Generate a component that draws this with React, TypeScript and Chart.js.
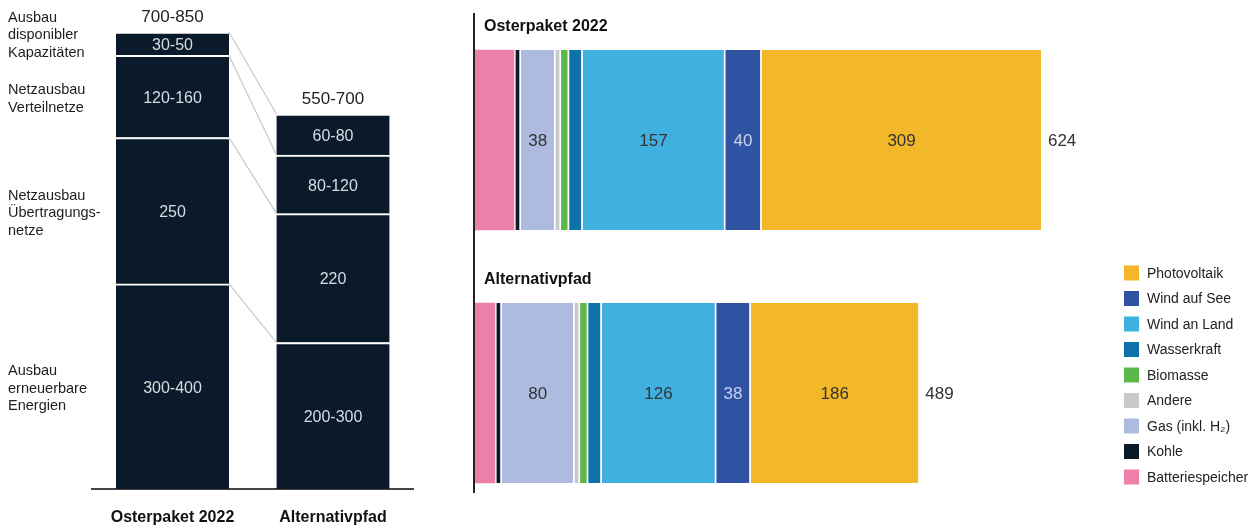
import React, { useEffect, useRef } from "react";
import { Chart, registerables } from "chart.js";

Chart.register(...registerables);

const FONT = '"Liberation Sans", Arial, Helvetica, sans-serif';

// ---------- Left chart: Kosten (Mrd. €) ----------
const costCategories = ["Osterpaket 2022", "Alternativpfad"];
const costComponents = [
  "Ausbau erneuerbare Energien",
  "Netzausbau Übertragungsnetze",
  "Netzausbau Verteilnetze",
  "Ausbau disponibler Kapazitäten",
];
const costComponentLines = [
  ["Ausbau", "erneuerbare", "Energien"],
  ["Netzausbau", "Übertragungs-", "netze"],
  ["Netzausbau", "Verteilnetze"],
  ["Ausbau", "disponibler", "Kapazitäten"],
];
const costOsterpaket = [350, 250, 140, 40];
const costAlternativ = [250, 220, 100, 70];
const costLabelsOsterpaket = ["300-400", "250", "120-160", "30-50"];
const costLabelsAlternativ = ["200-300", "220", "80-120", "60-80"];
const costTotalLabels = ["700-850", "550-700"];

// ---------- Right chart: installierte Leistung (GW) ----------
const capacityScenarios = ["Osterpaket 2022", "Alternativpfad"];
const technologies = [
  "Batteriespeicher",
  "Kohle",
  "Gas (inkl. H₂)",
  "Andere",
  "Biomasse",
  "Wasserkraft",
  "Wind an Land",
  "Wind auf See",
  "Photovoltaik",
];
const capacityOsterpaket = [44, 6, 38, 6, 9, 15, 157, 40, 309];
const capacityAlternativ = [23, 6, 80, 6, 9, 15, 126, 38, 186];
const capacityTotals = [624, 489];
const labeledTechnologies = ["Gas (inkl. H₂)", "Wind an Land", "Wind auf See", "Photovoltaik"];
const lightTextTechnologies = ["Wind auf See"];

const techColors = [
  "#ec80a9",
  "#0b1a2a",
  "#adbbe0",
  "#c9c9c9",
  "#5cb849",
  "#0e72a9",
  "#40b0e1",
  "#2f52a3",
  "#f3b829",
];
const costColor = "#0a1a2a";

const leftPlugin = {
  id: "leftDecor",
  afterDatasetsDraw(chart: any) {
    const ctx = chart.ctx as CanvasRenderingContext2D;
    ctx.save();
    const n = chart.data.datasets.length;
    // connector lines
    ctx.strokeStyle = "#c8c8c8";
    ctx.lineWidth = 1.2;
    for (let i = 0; i < n; i++) {
      const meta = chart.getDatasetMeta(i);
      const a = meta.data[0];
      const b = meta.data[1];
      ctx.beginPath();
      ctx.moveTo(a.x + a.width / 2, a.y);
      ctx.lineTo(b.x - b.width / 2, b.y);
      ctx.stroke();
    }
    // segment labels
    ctx.textAlign = "center";
    ctx.textBaseline = "middle";
    ctx.font = `16px ${FONT}`;
    ctx.fillStyle = "#d7dce2";
    for (let i = 0; i < n; i++) {
      const meta = chart.getDatasetMeta(i);
      meta.data.forEach((el: any, j: number) => {
        const lbl = j === 0 ? costLabelsOsterpaket[i] : costLabelsAlternativ[i];
        ctx.fillText(lbl, el.x, (el.y + el.base) / 2 + 2);
      });
    }
    // totals above bars
    const topMeta = chart.getDatasetMeta(n - 1);
    ctx.font = `17px ${FONT}`;
    ctx.fillStyle = "#222";
    topMeta.data.forEach((el: any, j: number) => {
      ctx.fillText(costTotalLabels[j], el.x, el.y - 15);
    });
    // category labels
    ctx.font = `bold 16px ${FONT}`;
    ctx.fillStyle = "#111";
    topMeta.data.forEach((el: any, j: number) => {
      ctx.fillText(costCategories[j], el.x, 518);
    });
    // side annotations
    ctx.textAlign = "left";
    ctx.font = `14.5px ${FONT}`;
    ctx.fillStyle = "#1e1e1e";
    const lh = 17.5;
    for (let i = 0; i < n; i++) {
      const el = chart.getDatasetMeta(i).data[0];
      const lines = costComponentLines[i];
      let center = (el.y + el.base) / 2 + 2.5;
      if (i === n - 1) center = el.y + 3;
      const start = center - ((lines.length - 1) * lh) / 2;
      lines.forEach((t, k) => ctx.fillText(t, 8, start + k * lh));
    }
    ctx.restore();
  },
};

const rightPlugin = {
  id: "rightDecor",
  afterDatasetsDraw(chart: any) {
    const ctx = chart.ctx as CanvasRenderingContext2D;
    const area = chart.chartArea;
    const n = chart.data.datasets.length;
    ctx.save();
    // value labels
    ctx.textAlign = "center";
    ctx.textBaseline = "middle";
    ctx.font = `17px ${FONT}`;
    chart.data.datasets.forEach((ds: any, i: number) => {
      if (!labeledTechnologies.includes(ds.label)) return;
      const meta = chart.getDatasetMeta(i);
      ctx.fillStyle = lightTextTechnologies.includes(ds.label) ? "#c8d2ef" : "#333";
      meta.data.forEach((el: any, j: number) => {
        ctx.fillText(String(ds.data[j]), (el.x + el.base) / 2 + 1, el.y + 1);
      });
    });
    // totals
    const last = chart.getDatasetMeta(n - 1);
    ctx.textAlign = "left";
    ctx.fillStyle = "#333";
    last.data.forEach((el: any, j: number) => {
      ctx.fillText(String(capacityTotals[j]), el.x + 7, el.y + 1);
    });
    // scenario titles
    const first = chart.getDatasetMeta(0);
    ctx.font = `bold 16px ${FONT}`;
    ctx.fillStyle = "#111";
    first.data.forEach((el: any, j: number) => {
      const top = el.y - el.height / 2;
      ctx.fillText(capacityScenarios[j], area.left + 10, top - 23);
    });
    // axis line
    const lastBar = first.data[first.data.length - 1];
    const bottom = lastBar.y + lastBar.height / 2;
    ctx.strokeStyle = "#222";
    ctx.lineWidth = 2;
    ctx.beginPath();
    ctx.moveTo(area.left, area.top - 0.5);
    ctx.lineTo(area.left, bottom + 10);
    ctx.stroke();
    // legend
    const step = 25.5;
    const x0 = area.right + 14;
    const yLast = bottom - 6;
    ctx.font = `14px ${FONT}`;
    for (let k = 0; k < n; k++) {
      const i = n - 1 - k;
      const ds = chart.data.datasets[i];
      const yc = yLast - (n - 1 - k) * step;
      ctx.fillStyle = ds.backgroundColor;
      ctx.fillRect(x0, yc - 7.5, 15, 15);
      ctx.fillStyle = "#222";
      ctx.fillText(ds.label, x0 + 23, yc + 1);
    }
    ctx.restore();
  },
};

export default function App() {
  const leftRef = useRef<HTMLCanvasElement>(null);
  const rightRef = useRef<HTMLCanvasElement>(null);

  useEffect(() => {
    const left = new Chart(leftRef.current as HTMLCanvasElement, {
      type: "bar",
      data: {
        labels: costCategories,
        datasets: costComponents.map((name, i) => ({
          label: name,
          data: [costOsterpaket[i], costAlternativ[i]],
          backgroundColor: costColor,
          borderColor: "#ffffff",
          borderWidth: { top: 2, right: 0, bottom: 0, left: 0 },
          borderSkipped: false,
          barThickness: 113,
        })),
      },
      options: {
        responsive: false,
        animation: false,
        layout: { padding: { left: 92.25, right: 6.75, top: 20.3, bottom: 39 } },
        plugins: { legend: { display: false }, tooltip: { enabled: false } },
        scales: {
          x: {
            stacked: true,
            ticks: { display: false },
            grid: { display: false, drawTicks: false },
            border: { display: true, color: "#444", width: 2 },
          },
          y: { stacked: true, display: false, min: 0, max: 800 },
        },
      },
      plugins: [leftPlugin],
    } as any);

    const right = new Chart(rightRef.current as HTMLCanvasElement, {
      type: "bar",
      data: {
        labels: capacityScenarios,
        datasets: technologies.map((name, i) => ({
          label: name,
          data: [capacityOsterpaket[i], capacityAlternativ[i]],
          backgroundColor: techColors[i],
          borderColor: "#ffffff",
          borderWidth: { top: 0, right: 0, bottom: 0, left: i === 0 ? 0 : 2 },
          borderSkipped: false,
          barThickness: 180,
        })),
      },
      options: {
        indexAxis: "y",
        responsive: false,
        animation: false,
        layout: { padding: { left: 4, right: 150, top: 13.5, bottom: 8.5 } },
        plugins: { legend: { display: false }, tooltip: { enabled: false } },
        scales: {
          x: { stacked: true, display: false, min: 0, max: 700 },
          y: { stacked: true, display: false },
        },
      },
      plugins: [rightPlugin],
    } as any);

    return () => {
      left.destroy();
      right.destroy();
    };
  }, []);

  return (
    <div
      style={{
        position: "absolute",
        left: 0,
        top: 0,
        width: 1260,
        height: 528,
        background: "#ffffff",
        overflow: "hidden",
      }}
    >
      <canvas
        ref={leftRef}
        width={420}
        height={528}
        style={{ position: "absolute", left: 0, top: 0, width: 420, height: 528 }}
      />
      <canvas
        ref={rightRef}
        width={790}
        height={528}
        style={{ position: "absolute", left: 470, top: 0, width: 790, height: 528 }}
      />
    </div>
  );
}
